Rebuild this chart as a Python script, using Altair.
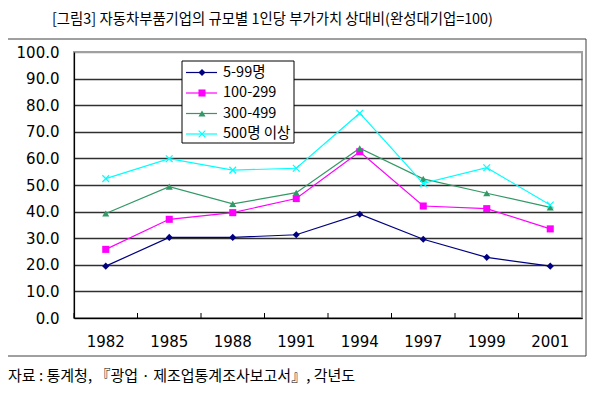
import altair as alt
import pandas as pd

years = ["1982", "1985", "1988", "1991", "1994", "1997", "1999", "2001"]
series = ["5-99명", "100-299", "300-499", "500명 이상"]
v_5_99 = [19.5, 30.3, 30.3, 31.3, 39.0, 29.6, 22.8, 19.5]
v_100_299 = [25.8, 37.1, 39.6, 44.9, 62.5, 42.1, 41.1, 33.5]
v_300_499 = [39.3, 49.4, 42.9, 47.1, 63.8, 52.3, 46.9, 41.6]
v_500 = [52.4, 59.9, 55.6, 56.3, 77.0, 50.6, 56.5, 42.5]
colors = ["#000080", "#FF00FF", "#339966", "#00FFFF"]
xshape = "M-1,-1L1,1M-1,1L1,-1"
shapes = ["diamond", "square", "triangle-up", xshape]

title_text = "[그림3] 자동차부품기업의 규모별 1인당 부가가치 상대비(완성대기업=100)"
source_text = "자료 : 통계청, 『광업 · 제조업통계조사보고서』, 각년도"

rows = []
for name, vals in zip(series, [v_5_99, v_100_299, v_300_499, v_500]):
    for y, v in zip(years, vals):
        rows.append({"year": y, "series": name, "value": v})
df = pd.DataFrame(rows)
leg = pd.DataFrame({"series": series})
yr = pd.DataFrame({"year": years})

W, H = 508, 266
KR = "Noto Sans CJK KR"
NUM = "DejaVu Sans"

xscale = alt.Scale(type="band", domain=years, paddingInner=0, paddingOuter=0)
yscale = alt.Scale(domain=[0, 100], nice=False)
cscale = alt.Scale(domain=series, range=colors)
sscale = alt.Scale(domain=series, range=shapes)

xaxis = alt.Axis(title=None, ticks=False, labelAngle=0, labelFont=NUM,
                 labelFontSize=15, labelColor="black", labelPadding=16,
                 bandPosition=0.5, labelOverlap=False,
                 domainColor="black", domainWidth=1.2, grid=False)
yaxis = alt.Axis(title=None, values=list(range(0, 101, 10)), format=".1f",
                 ticks=False, labelFont=NUM, labelFontSize=15, labelOverlap=False,
                 labelColor="black", labelPadding=15, domainColor="black",
                 domainWidth=1.2, grid=True,
                 gridColor={"condition": {"test": "datum.value == 100", "value": "#a0a0a0"},
                            "value": "#303030"},
                 gridWidth=1.3)

X = alt.X("year:O", scale=xscale, bandPosition=0.5, axis=xaxis)
Y = alt.Y("value:Q", scale=yscale, axis=yaxis)

dummy = alt.Data(values=[{}])

border = alt.Chart(dummy).mark_rect(fill=None, stroke="#404040", strokeWidth=1).encode(
    x=alt.value(-67), x2=alt.value(512), y=alt.value(-13), y2=alt.value(304))

title = alt.Chart(dummy).mark_text(font=KR, fontSize=14.4, align="left",
                                   baseline="middle", color="black").encode(
    x=alt.value(-22), y=alt.value(-32), text=alt.value(title_text))

source = alt.Chart(dummy).mark_text(font=KR, fontSize=15, align="left",
                                    baseline="middle", color="black").encode(
    x=alt.value(-66), y=alt.value(324), text=alt.value(source_text))

ticks = alt.Chart(yr).mark_rule(color="black", strokeWidth=1).encode(
    x=alt.X("year:O", scale=xscale, bandPosition=0, axis=xaxis),
    y=alt.value(H - 5), y2=alt.value(H))

lines = alt.Chart(df).mark_line(strokeWidth=1.2).encode(
    x=X, y=Y, color=alt.Color("series:N", scale=cscale, legend=None),
    detail="series:N")

pts_fill = alt.Chart(df).transform_filter(
    alt.datum.series != "500명 이상").mark_point(filled=True, size=50, opacity=1).encode(
    x=X, y=Y,
    color=alt.Color("series:N", scale=cscale, legend=None),
    shape=alt.Shape("series:N", scale=sscale, legend=None))

pts_x = alt.Chart(df).transform_filter(
    alt.datum.series == "500명 이상").mark_point(filled=False, size=45, strokeWidth=1.2,
                                               opacity=1).encode(
    x=X, y=Y,
    color=alt.Color("series:N", scale=cscale, legend=None),
    shape=alt.Shape("series:N", scale=sscale, legend=None))

main = alt.layer(lines, pts_fill, pts_x, ticks, border, title, source)

# Legend
legbox = alt.Chart(dummy).mark_rect(fill="white", stroke="black", strokeWidth=1).encode(
    x=alt.value(108), x2=alt.value(220), y=alt.value(9), y2=alt.value(91))

LY = alt.Y("series:N", scale=alt.Scale(type="point", domain=series, range=[20.5, 82],
                                       padding=0), axis=None)
leg_lines = alt.Chart(leg).mark_rule(strokeWidth=1.2).encode(
    x=alt.value(112), x2=alt.value(143), y=LY,
    color=alt.Color("series:N", scale=cscale, legend=None))
leg_pts = alt.Chart(leg).transform_filter(
    alt.datum.series != "500명 이상").mark_point(filled=True, size=50, opacity=1).encode(
    x=alt.value(128), y=LY,
    color=alt.Color("series:N", scale=cscale, legend=None),
    shape=alt.Shape("series:N", scale=sscale, legend=None))
leg_x = alt.Chart(leg).transform_filter(
    alt.datum.series == "500명 이상").mark_point(filled=False, size=45, strokeWidth=1.2,
                                               opacity=1).encode(
    x=alt.value(128), y=LY,
    color=alt.Color("series:N", scale=cscale, legend=None),
    shape=alt.Shape("series:N", scale=sscale, legend=None))
leg_text = alt.Chart(leg).mark_text(font=KR, fontSize=14.5, align="left",
                                    baseline="middle", color="black").encode(
    x=alt.value(149), y=LY, text="series:N")

legend = alt.layer(legbox, leg_lines, leg_pts, leg_x, leg_text)

chart = alt.layer(main, legend).resolve_scale(y="independent").properties(
    width=W, height=H, autosize="none",
    padding={"left": 66, "top": 44, "right": 5, "bottom": 72},
    background="white",
).configure_view(stroke="#a0a0a0", strokeWidth=2)

chart.save("out.html", embed_options={"renderer": "svg", "actions": False})
